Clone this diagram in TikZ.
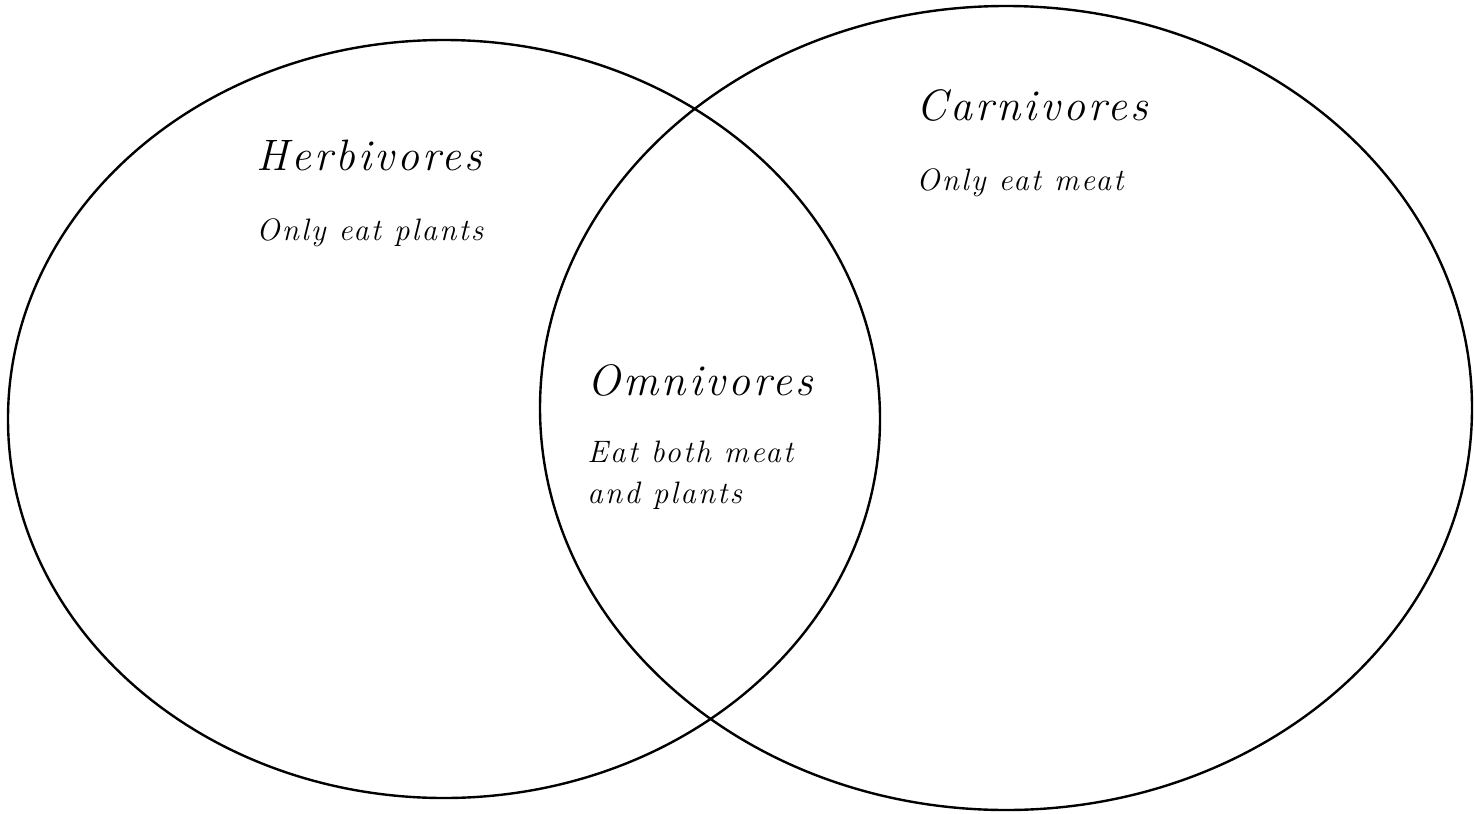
\documentclass[tikz,border=0pt]{standalone}
\usepackage{fontspec}
\newfontfamily\hand{Latin Modern Roman}[LetterSpace=7]
\usetikzlibrary{shapes.geometric}
\begin{document}
\begin{tikzpicture}[x=0.5pt,y=-0.5pt,
  circ/.style={draw, ellipse, line width=1.2pt, inner sep=0pt},
  title/.style={anchor=base west, inner sep=0pt, font=\hand\itshape\fontsize{22}{26}\selectfont},
  desc/.style={anchor=base west, inner sep=0pt, align=left, font=\hand\itshape\fontsize{15.5}{20.5}\selectfont}]
\useasboundingbox (0,0) rectangle (1475,813);
\node[circ, minimum width=436pt, minimum height=379pt] (herb) at (444,419) {};
\node[circ, minimum width=466pt, minimum height=402pt] (carn) at (1006,408) {};
\node[title] (htitle) at (256,170) {Herbivores};
\node[desc] (hdesc) at (256,240) {Only eat plants};
\node[title] (ctitle) at (916,120) {Carnivores};
\node[desc] (cdesc) at (916,190) {Only eat meat};
\node[title] (otitle) at (587,395) {Omnivores};
\node[desc] (odesc) at (587,503) {Eat both meat\\and plants};
\end{tikzpicture}
\end{document}
